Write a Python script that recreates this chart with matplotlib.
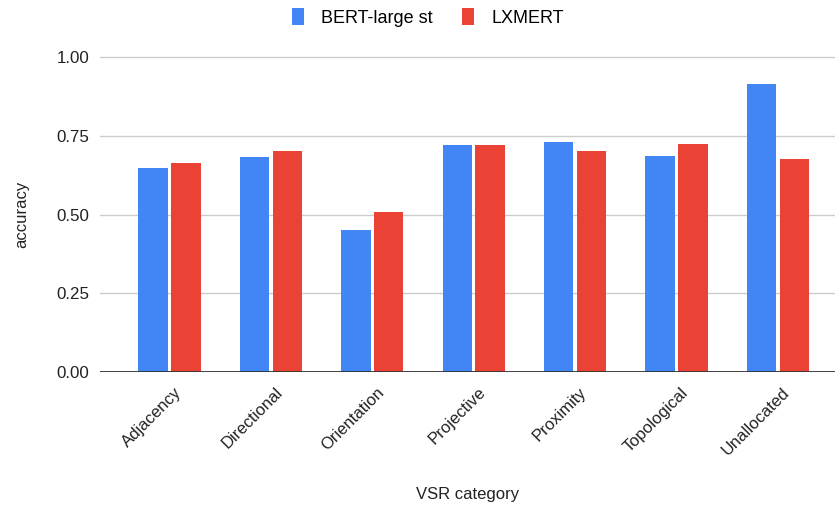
import numpy as np
import matplotlib
matplotlib.use("Agg")
import matplotlib.pyplot as plt

categories = ["Adjacency", "Directional", "Orientation", "Projective",
              "Proximity", "Topological", "Unallocated"]
bert_large = [0.649, 0.683, 0.450, 0.720, 0.729, 0.686, 0.914]
lxmert = [0.664, 0.702, 0.507, 0.720, 0.701, 0.724, 0.677]
yticks = [0.0, 0.25, 0.5, 0.75, 1.0]

BLUE = "#4285F4"
RED = "#EA4335"
TXT = "#222222"

plt.rcParams["font.family"] = ["Liberation Sans", "DejaVu Sans"]
plt.rcParams["font.size"] = 12

fig = plt.figure(figsize=(8.35, 5.09), dpi=100)
ax = fig.add_axes([0.1198, 0.269, 0.8802, 0.619])

x = np.arange(len(categories))
w = 0.29
off = 0.161
ax.bar(x - off, bert_large, w, color=BLUE, label="BERT-large st", zorder=3)
ax.bar(x + off, lxmert, w, color=RED, label="LXMERT", zorder=3)

ax.set_xlim(-0.685, 6.563)
ax.set_ylim(0, 1.0)
ax.set_yticks(yticks)
ax.set_yticklabels([f"{t:.2f}" for t in yticks], fontsize=12.2, color=TXT)
for t in yticks[1:]:
    ax.axhline(t, color="#cccccc", lw=1.0, zorder=1, clip_on=False)
ax.axhline(0, color="#333333", lw=1.3, zorder=4)

# slanted labels end a little right of the group centre
ax.set_xticks(x + 0.04)
ax.set_xticklabels(categories, rotation=45, ha="right", rotation_mode="anchor",
                   fontsize=12, color=TXT)
ax.tick_params(axis="both", length=0)
ax.tick_params(axis="y", pad=7.5)
ax.tick_params(axis="x", pad=9)
for s in ax.spines.values():
    s.set_visible(False)

ax.set_xlabel("VSR category", fontsize=12, color=TXT, labelpad=21)
ax.set_ylabel("accuracy", fontsize=12, color=TXT, labelpad=20)

fig.legend(loc="upper center", bbox_to_anchor=(0.5125, 1.016), ncol=2, frameon=False,
           fontsize=13, handlelength=0.67, handleheight=1.1, columnspacing=1.6,
           handletextpad=0.95)

fig.savefig("out.png", dpi=100, facecolor="white")
